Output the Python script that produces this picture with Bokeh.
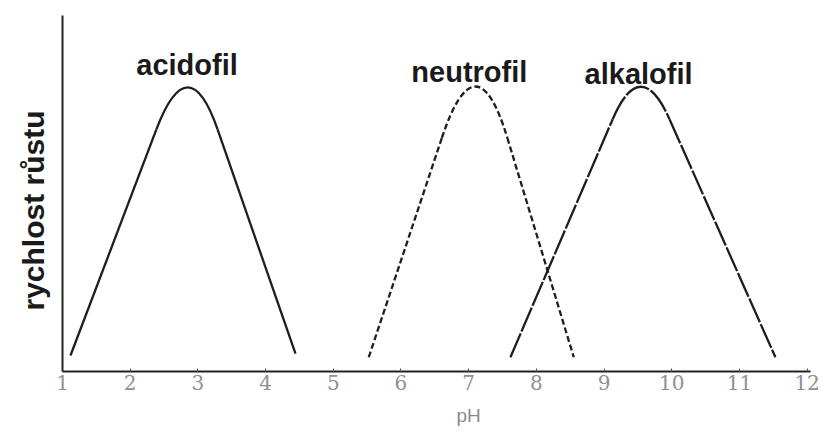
from bokeh.plotting import figure
from bokeh.models import Range1d, FixedTicker, Label, Title
from bokeh.embed import file_html
from bokeh.resources import INLINE

# pH scale
ph_ticks = [1, 2, 3, 4, 5, 6, 7, 8, 9, 10, 11, 12]

# Each growth curve: base start, left shoulder, apex (curve control point),
# right shoulder, base end.  Rate in arbitrary units (0-10).
acid_ph = [1.118, 2.387, 2.860, 3.291, 4.442]
acid_rate = [0.45, 6.80, 9.16, 6.80, 0.50]

neut_ph = [5.524, 6.604, 7.111, 7.572, 8.553]
neut_rate = [0.40, 6.56, 9.45, 6.56, 0.40]

alk_ph = [7.617, 9.126, 9.541, 9.969, 11.532]
alk_rate = [0.40, 7.08, 8.92, 7.08, 0.40]

names = ["acidofil", "neutrofil", "alkalofil"]
name_ph = [2.84, 7.01, 9.51]
name_rate = [8.60, 8.40, 8.37]

ink = "#1e1e1e"
grey = "#8a8a8a"

p = figure(width=827, height=439, output_backend="svg", toolbar_location=None,
           x_range=Range1d(1, 12.05), y_range=Range1d(0, 10),
           min_border_left=62, min_border_right=17,
           min_border_top=15, min_border_bottom=68)
p.xgrid.visible = False
p.ygrid.visible = False
p.outline_line_color = None
p.background_fill_color = "white"
p.border_fill_color = "white"


def draw_curve(xs, ys, dash):
    style = dict(line_color=ink, line_width=2.3, line_dash=dash)
    p.line(xs[0:2], ys[0:2], **style)
    p.quadratic(x0=[xs[1]], y0=[ys[1]], x1=[xs[3]], y1=[ys[3]],
                cx=[xs[2]], cy=[ys[2]], **style)
    p.line(xs[3:5], ys[3:5], **style)


draw_curve(acid_ph, acid_rate, "solid")
draw_curve(neut_ph, neut_rate, "6 3")
draw_curve(alk_ph, alk_rate, "26 2")

for t, x, y in zip(names, name_ph, name_rate):
    p.add_layout(Label(x=x, y=y, text=t, text_align="center",
                       text_baseline="alphabetic", text_font="Liberation Sans",
                       text_font_style="bold", text_font_size="29px",
                       text_color="#1a1a1a"))

# axis titles
p.add_layout(Title(text="rychlost růstu", align="left", offset=61,
                   standoff=26, text_font="Liberation Sans",
                   text_font_style="bold", text_font_size="30px",
                   text_color="#1a1a1a"), "left")
p.add_layout(Title(text="pH", align="left", offset=394, standoff=20,
                   text_font="Liberation Sans", text_font_style="normal",
                   text_font_size="19px", text_color=grey), "below")

xa = p.xaxis[0]
xa.ticker = FixedTicker(ticks=ph_ticks)
xa.axis_line_color = "#222222"
xa.axis_line_width = 2
xa.major_tick_in = 3
xa.major_tick_out = 0
xa.major_tick_line_color = "#555555"
xa.minor_tick_line_color = None
xa.major_label_standoff = 3
xa.major_label_text_font = "DejaVu Serif"
xa.major_label_text_font_size = "20px"
xa.major_label_text_color = "#909090"

ya = p.yaxis[0]
ya.ticker = FixedTicker(ticks=[])
ya.axis_line_color = "#222222"
ya.axis_line_width = 2
ya.major_tick_line_color = None
ya.minor_tick_line_color = None
ya.major_label_text_font_size = "0px"

open("out.html", "w").write(file_html(p, INLINE))
